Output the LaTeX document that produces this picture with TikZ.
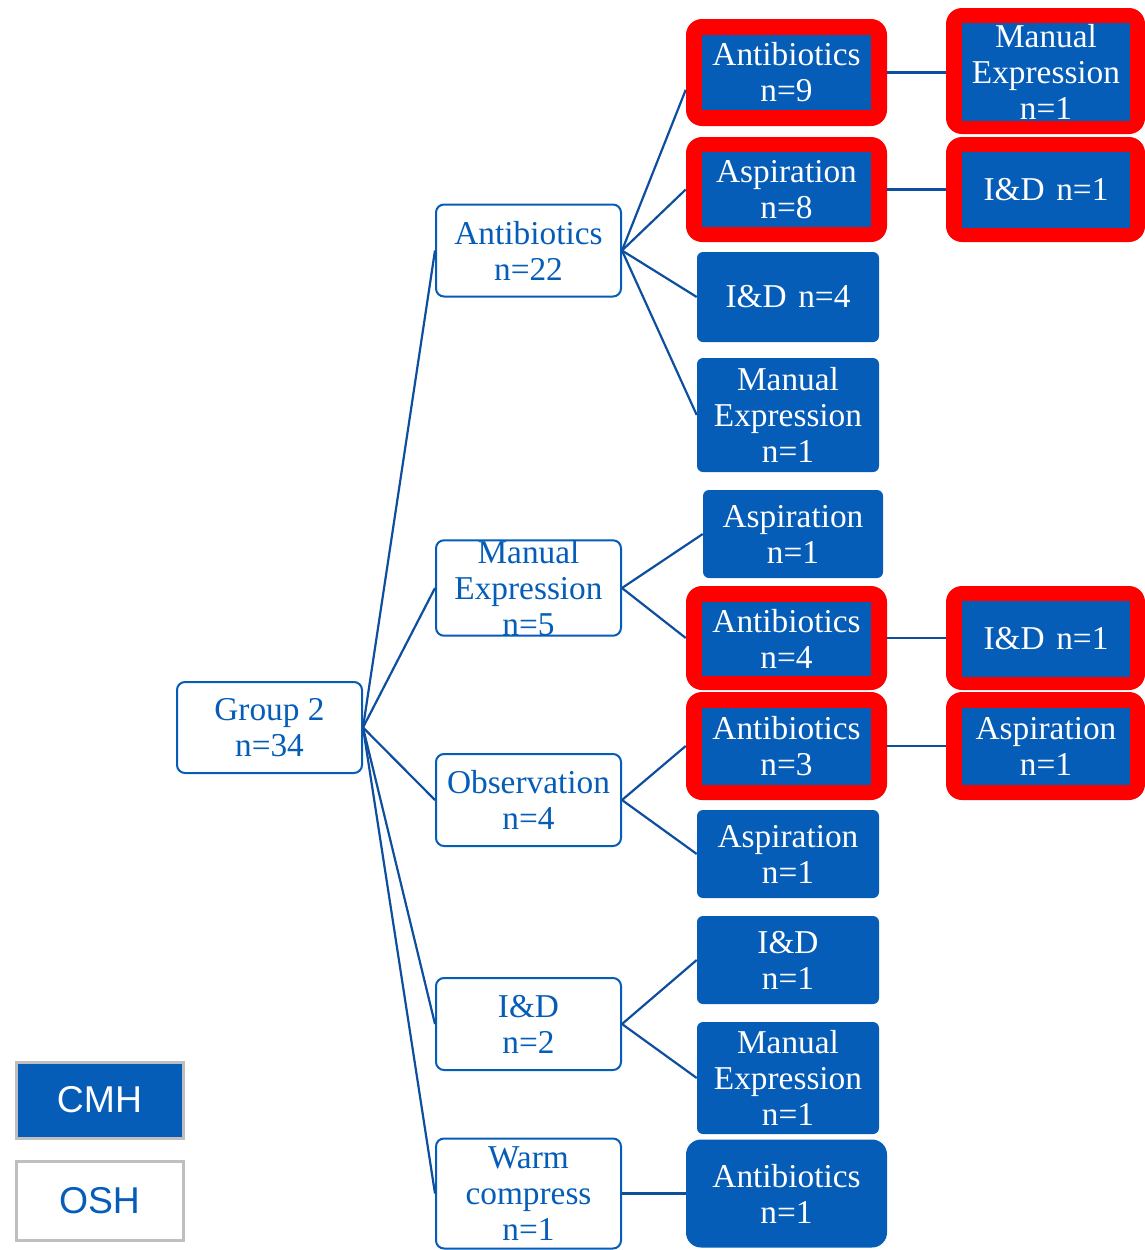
\documentclass[tikz,border=0pt]{standalone}
\usepackage{fontspec}
\setmainfont{Liberation Serif}
\newfontfamily\legendfont{Liberation Sans}
\definecolor{cblue}{HTML}{055DB8}
\definecolor{lblue}{HTML}{0D4E9E}
\definecolor{lgray}{HTML}{BFBFBF}
\newdimen\pxu \pxu=0.75pt
\tikzset{
 txt/.style={font=\fontsize{25}{27}\selectfont, align=center, inner sep=0pt},
 outbox/.style={txt, draw=cblue, line width=2\pxu, rounded corners=8\pxu, fill=white, text=cblue, minimum width=185\pxu, minimum height=#1},
 outbox/.default=92\pxu,
 bluebox/.style={txt, fill=cblue, rounded corners=6\pxu, text=white, minimum width=182\pxu, minimum height=#1},
 redbox/.style={fill=red, rounded corners=16\pxu, minimum width=201\pxu, minimum height=#1, inner sep=0pt},
 redboxb/.style={redbox=#1, minimum width=199\pxu},
 innerbox/.style={txt, fill=cblue, text=white, minimum width=169\pxu, minimum height=#1},
 conn/.style={draw=lblue, line width=2.2\pxu},
 legbox/.style={font=\legendfont\fontsize{28}{30}\selectfont, draw=lgray, line width=3\pxu, minimum width=167\pxu, minimum height=#1, inner sep=0pt},
}
\begin{document}
\begin{tikzpicture}[x=0.75pt,y=-0.75pt]
\useasboundingbox (0,0) rectangle (1145,1250);
% root
\node[outbox=91\pxu] (g) at (269.5,727.5) {Group 2\\n=34};
% level 1
\node[outbox] (ab22) at (528.5,250.5) {Antibiotics\\n=22};
\node[outbox] (me5) at (528.5,588) {Manual\\Expression\\n=5};
\node[outbox] (ob4) at (528.5,800) {Observation\\n=4};
\node[outbox] (id2) at (528.5,1024) {I\&D\\n=2};
\node[outbox=110\pxu] (wc1) at (528.5,1193.5) {Warm\\compress\\n=1};
% level 2
\node[redbox=107\pxu] (a9) at (786.5,72.5) {};
\node[innerbox=75\pxu] (a9t) at (786.5,72.5) {Antibiotics\\n=9};
\node[redbox=105\pxu] (as8) at (786.5,189.5) {};
\node[innerbox=75\pxu] (as8t) at (786.5,189.5) {Aspiration\\n=8};
\node[bluebox=90\pxu] (id4) at (788,297) {I\&D\hspace{0.35em}n=4};
\node[bluebox=114\pxu] (me1) at (788,415) {Manual\\Expression\\n=1};
\node[bluebox=88\pxu, minimum width=180\pxu] (as1a) at (793,534) {Aspiration\\n=1};
\node[redbox=104\pxu] (a4) at (786.5,638) {};
\node[innerbox=74\pxu] (a4t) at (786.5,639) {Antibiotics\\n=4};
\node[redbox=108\pxu] (a3) at (786.5,746) {};
\node[innerbox=77\pxu] (a3t) at (786.5,746.5) {Antibiotics\\n=3};
\node[bluebox=88\pxu] (as1b) at (788,854) {Aspiration\\n=1};
\node[bluebox=88\pxu] (id1) at (788,960) {I\&D\\n=1};
\node[bluebox=112\pxu] (me1b) at (788,1078) {Manual\\Expression\\n=1};
\node[bluebox=108\pxu, minimum width=201\pxu, rounded corners=15\pxu] (an1) at (786.5,1193.5) {Antibiotics\\n=1};
% level 3
\node[redboxb=126\pxu] (me1r) at (1045.5,71) {};
\node[innerbox=98\pxu, minimum width=168\pxu] (me1rt) at (1046,72) {Manual\\Expression\\n=1};
\node[redboxb=105\pxu] (id1r) at (1045.5,189.5) {};
\node[innerbox=76\pxu, minimum width=168\pxu] (id1rt) at (1046,190) {I\&D\hspace{0.35em}n=1};
\node[redboxb=104\pxu] (id1s) at (1045.5,638) {};
\node[innerbox=76\pxu, minimum width=168\pxu] (id1st) at (1046,639) {I\&D\hspace{0.35em}n=1};
\node[redboxb=108\pxu] (as1r) at (1045.5,746) {};
\node[innerbox=77\pxu, minimum width=168\pxu] (as1rt) at (1046,746.5) {Aspiration\\n=1};
% legend
\node[legbox=76\pxu, fill=cblue, text=white] (cmh) at (99.5,1100) {CMH};
\node[legbox=79\pxu, fill=white, text=cblue] (osh) at (99.5,1200.5) {OSH};
% connectors
\foreach \c in {ab22,me5,ob4,id2,wc1} \draw[conn] (g.east) -- (\c.west);
\draw[conn] (ab22.east) -- ([yshift=-13pt]a9.west);
\foreach \c in {as8,id4,me1} \draw[conn] (ab22.east) -- (\c.west);
\foreach \c in {as1a,a4} \draw[conn] (me5.east) -- (\c.west);
\foreach \c in {a3,as1b} \draw[conn] (ob4.east) -- (\c.west);
\foreach \c in {id1,me1b} \draw[conn] (id2.east) -- (\c.west);
\draw[conn] (wc1.east) -- (an1.west);
\draw[conn] (a9.east) -- (me1r.west |- a9.east);
\draw[conn] (as8.east) -- (id1r.west |- as8.east);
\draw[conn] (a4.east) -- (id1s.west |- a4.east);
\draw[conn] (a3.east) -- (as1r.west |- a3.east);
\end{tikzpicture}
\end{document}
